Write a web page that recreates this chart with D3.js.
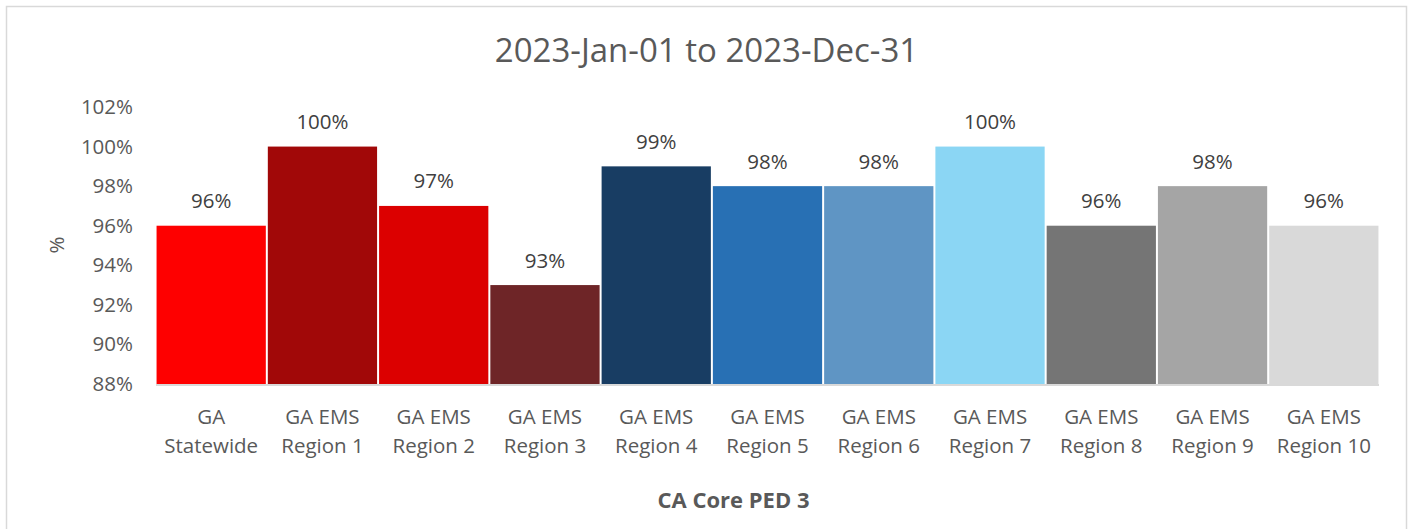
<!DOCTYPE html>
<html>
<head>
<meta charset="utf-8">
<script src="https://cdn.jsdelivr.net/npm/d3@7.9.0/dist/d3.min.js"></script>
<style>
  body { margin: 0; background: #fff; }
  svg { display: block; font-family: "Open Sans", sans-serif; }
</style>
</head>
<body>
<div id="chart"></div>
<script>
const categories = [
  ["GA", "Statewide"],
  ["GA EMS", "Region 1"],
  ["GA EMS", "Region 2"],
  ["GA EMS", "Region 3"],
  ["GA EMS", "Region 4"],
  ["GA EMS", "Region 5"],
  ["GA EMS", "Region 6"],
  ["GA EMS", "Region 7"],
  ["GA EMS", "Region 8"],
  ["GA EMS", "Region 9"],
  ["GA EMS", "Region 10"]
];
const values = [96, 100, 97, 93, 99, 98, 98, 100, 96, 98, 96];
const barColors = ["#FE0000", "#A10808", "#DC0000", "#6E2527", "#183D63", "#2870B4",
                   "#5F95C4", "#8BD6F4", "#757575", "#A5A5A5", "#D9D9D9"];
const yTicks = [88, 90, 92, 94, 96, 98, 100, 102];

const width = 1413;
const height = 529;
const textColor = "#595959";

const svg = d3.select("#chart")
  .append("svg")
  .attr("width", width)
  .attr("height", height);

// chart area border (bottom edge runs off the page)
svg.append("rect")
  .attr("x", 6.5).attr("y", 6.5)
  .attr("width", 1400).attr("height", 540)
  .attr("fill", "#fff")
  .attr("stroke", "#D9D9D9")
  .attr("stroke-width", 1.5);

const plot = { left: 156, right: 1379, top: 107, bottom: 384 };

const x = d3.scaleBand()
  .domain(categories.map((d, i) => i))
  .range([plot.left, plot.right])
  .paddingInner(0.018)
  .paddingOuter(0.005);

const y = d3.scaleLinear()
  .domain([88, 102])
  .range([plot.bottom, plot.top]);

// title
svg.append("text")
  .attr("x", 706.5).attr("y", 62)
  .attr("text-anchor", "middle")
  .attr("font-size", 33)
  .attr("fill", textColor)
  .text("2023-Jan-01 to 2023-Dec-31");

// y axis (labels only)
const yAxis = svg.append("g")
  .attr("transform", `translate(${plot.left - 23},0)`)
  .call(d3.axisLeft(y).tickValues(yTicks).tickSize(0).tickPadding(0).tickFormat(d => d + "%"));
yAxis.select(".domain").remove();
yAxis.selectAll("text")
  .attr("font-size", 20.5)
  .attr("font-family", "Open Sans, sans-serif")
  .attr("fill", textColor);

svg.append("text")
  .attr("transform", "translate(64,245) rotate(-90)")
  .attr("text-anchor", "middle")
  .attr("font-size", 20.5)
  .attr("fill", textColor)
  .text("%");

// bars
svg.append("g")
  .selectAll("rect")
  .data(values)
  .join("rect")
  .attr("x", (d, i) => x(i))
  .attr("y", d => y(d))
  .attr("width", x.bandwidth())
  .attr("height", d => y(88) - y(d))
  .attr("fill", (d, i) => barColors[i]);

// data labels
svg.append("g")
  .selectAll("text")
  .data(values)
  .join("text")
  .attr("x", (d, i) => x(i) + x.bandwidth() / 2)
  .attr("y", d => y(d) - 17.5)
  .attr("text-anchor", "middle")
  .attr("font-size", 20.5)
  .attr("fill", "#404040")
  .text(d => d + "%");

// baseline
svg.append("line")
  .attr("x1", plot.left).attr("x2", plot.right)
  .attr("y1", plot.bottom + 1).attr("y2", plot.bottom + 1)
  .attr("stroke", "#D9D9D9")
  .attr("stroke-width", 2);

// category labels (two lines)
const xl = svg.append("g")
  .selectAll("text")
  .data(categories)
  .join("text")
  .attr("text-anchor", "middle")
  .attr("font-size", 20.5)
  .attr("fill", textColor);
xl.append("tspan")
  .attr("x", (d, i) => x(i) + x.bandwidth() / 2)
  .attr("y", 423.5)
  .text(d => d[0]);
xl.append("tspan")
  .attr("x", (d, i) => x(i) + x.bandwidth() / 2)
  .attr("y", 452.5)
  .text(d => d[1]);

// x axis title
svg.append("text")
  .attr("x", 733.5).attr("y", 507.5)
  .attr("text-anchor", "middle")
  .attr("font-size", 22)
  .attr("font-weight", "bold")
  .attr("fill", textColor)
  .text("CA Core PED 3");
</script>
</body>
</html>
